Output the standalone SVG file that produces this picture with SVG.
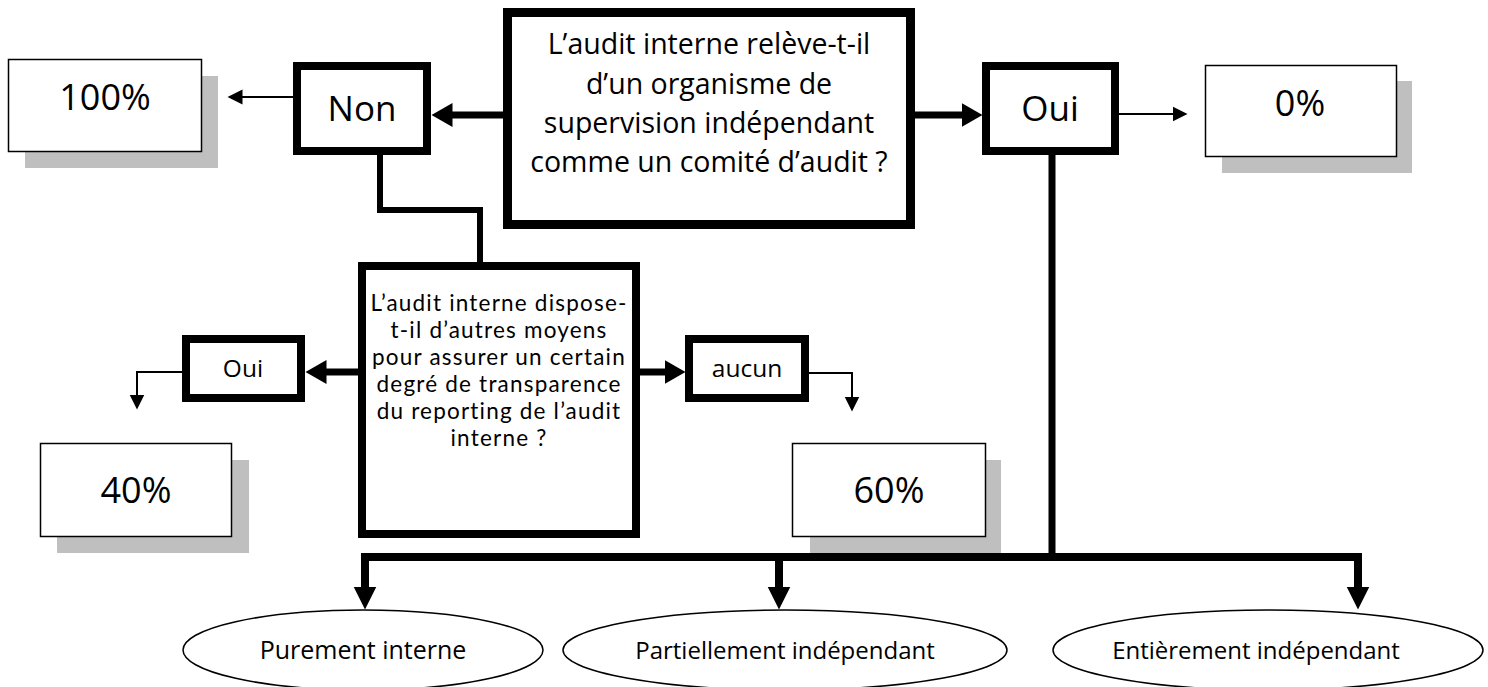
<svg xmlns="http://www.w3.org/2000/svg" width="1488" height="687" viewBox="0 0 1488 687">
  <style>
    .bold { fill: #fff; stroke: #000; stroke-width: 8; stroke-linejoin: miter; }
    .thinbox { fill: #fff; stroke: #000; stroke-width: 1.5; }
    .shadow { fill: #bfbfbf; stroke: none; }
    .oval { fill: #fff; stroke: #000; stroke-width: 1.5; }
    .txt { font-family: "Open Sans", "Liberation Sans", sans-serif; fill: #000; text-anchor: middle; }
    .body { font-family: Lato, "Open Sans", sans-serif; fill: #000; text-anchor: middle; font-size: 22.5px; letter-spacing: 1.2px; }
    .thick { fill: none; stroke: #000; stroke-width: 7; stroke-linejoin: miter; }
    .thin { fill: none; stroke: #000; stroke-width: 2; }
  </style>
  <defs>
    <marker id="headBig" markerUnits="userSpaceOnUse" markerWidth="22" markerHeight="24" refX="0.5" refY="12" orient="auto">
      <path d="M0,0 L21,12 L0,24 z" fill="#000"/>
    </marker>
    <marker id="headDrop" markerUnits="userSpaceOnUse" markerWidth="24" markerHeight="24" refX="0.5" refY="12" orient="auto">
      <path d="M0,0.5 L23,12 L0,23.5 z" fill="#000"/>
    </marker>
    <marker id="headSmall" markerUnits="userSpaceOnUse" markerWidth="16" markerHeight="16" refX="0.5" refY="8" orient="auto">
      <path d="M0,0.5 L15,8 L0,15.5 z" fill="#000"/>
    </marker>
  </defs>

  <rect width="1488" height="687" fill="#fff"/>

  <!-- connectors -->
  <g id="connectors">
    <path class="thin" d="M293,97 H242" marker-end="url(#headSmall)"/>
    <path class="thick" d="M503,115 H452" marker-end="url(#headBig)"/>
    <path class="thick" d="M915,115 H962" marker-end="url(#headBig)"/>
    <path class="thin" d="M1119,114 H1173" marker-end="url(#headSmall)"/>
    <path class="thick" style="stroke-width:6" d="M380,155 V210 H480 V262"/>
    <path class="thick" d="M358,372 H326" marker-end="url(#headBig)"/>
    <path class="thin" d="M182,372 H137 V395" marker-end="url(#headSmall)"/>
    <path class="thick" d="M640,372 H665" marker-end="url(#headBig)"/>
    <path class="thin" d="M809,373 H852 V397" marker-end="url(#headSmall)"/>
    <path class="thick" d="M1052,155 V557"/>
    <path class="thick" style="stroke-width:8" d="M365,587 V557 H1358 V587"/>
    <path class="thick" style="stroke-width:8" d="M365,560 V587" marker-end="url(#headDrop)"/>
    <path class="thick" style="stroke-width:8" d="M779,557 V587" marker-end="url(#headDrop)"/>
    <path class="thick" style="stroke-width:8" d="M1358,560 V587" marker-end="url(#headDrop)"/>
  </g>

  <!-- main question -->
  <g id="q-supervision">
    <rect class="bold" style="stroke-width:9" x="507.5" y="12.5" width="403" height="212"/>
    <text class="txt" font-size="28.5" x="709" y="54">L’audit interne relève-t-il</text>
    <text class="txt" font-size="28.5" x="709" y="94">d’un organisme de</text>
    <text class="txt" font-size="28.5" x="709" y="133">supervision indépendant</text>
    <text class="txt" font-size="28.5" x="709" y="172">comme un comité d’audit ?</text>
  </g>

  <g id="non">
    <rect class="bold" x="297" y="66" width="130" height="85"/>
    <text class="txt" font-size="35" x="362" y="121">Non</text>
  </g>

  <g id="oui-top">
    <rect class="bold" x="986" y="66" width="129" height="85"/>
    <text class="txt" font-size="35" x="1050" y="121">Oui</text>
  </g>

  <g id="score-100">
    <rect class="shadow" x="25" y="76" width="193" height="92"/>
    <rect class="thinbox" x="8.5" y="59.5" width="193" height="92"/>
    <text class="txt" font-size="36" x="105" y="110">100%</text>
  </g>

  <g id="score-0">
    <rect class="shadow" x="1222" y="81" width="190" height="92"/>
    <rect class="thinbox" x="1205.5" y="65.5" width="191" height="91"/>
    <text class="txt" font-size="36" x="1300" y="116">0%</text>
  </g>

  <!-- second question -->
  <g id="q-transparence">
    <rect class="bold" x="362" y="266" width="274" height="268"/>
    <text class="body" x="499" y="311">L’audit interne dispose-</text>
    <text class="body" x="499" y="338">t-il d’autres moyens</text>
    <text class="body" x="499" y="365">pour assurer un certain</text>
    <text class="body" x="499" y="392">degré de transparence</text>
    <text class="body" x="499" y="419">du reporting de l’audit</text>
    <text class="body" x="499" y="446">interne ?</text>
  </g>

  <g id="oui-left">
    <rect class="bold" x="186" y="339" width="115" height="59"/>
    <text class="txt" font-size="24.5" x="243" y="377">Oui</text>
  </g>

  <g id="aucun">
    <rect class="bold" x="689" y="339" width="116" height="59"/>
    <text class="txt" font-size="24.5" x="747" y="377">aucun</text>
  </g>

  <g id="score-40">
    <rect class="shadow" x="57" y="460" width="192" height="93"/>
    <rect class="thinbox" x="40.5" y="443.5" width="191" height="93"/>
    <text class="txt" font-size="36" x="136" y="503">40%</text>
  </g>

  <g id="score-60">
    <rect class="shadow" x="810" y="460" width="191" height="93"/>
    <rect class="thinbox" x="792.5" y="443.5" width="193" height="93"/>
    <text class="txt" font-size="36" x="889" y="503">60%</text>
  </g>

  <!-- outcomes -->
  <g id="purement-interne">
    <ellipse class="oval" cx="363" cy="650" rx="180" ry="40"/>
    <text class="txt" font-size="25" x="363" y="659">Purement interne</text>
  </g>

  <g id="partiellement-independant">
    <ellipse class="oval" cx="785" cy="650" rx="222" ry="40"/>
    <text class="txt" font-size="24" x="785" y="659">Partiellement indépendant</text>
  </g>

  <g id="entierement-independant">
    <ellipse class="oval" cx="1268" cy="650" rx="215" ry="40"/>
    <text class="txt" font-size="24" x="1256" y="659">Entièrement indépendant</text>
  </g>
</svg>
